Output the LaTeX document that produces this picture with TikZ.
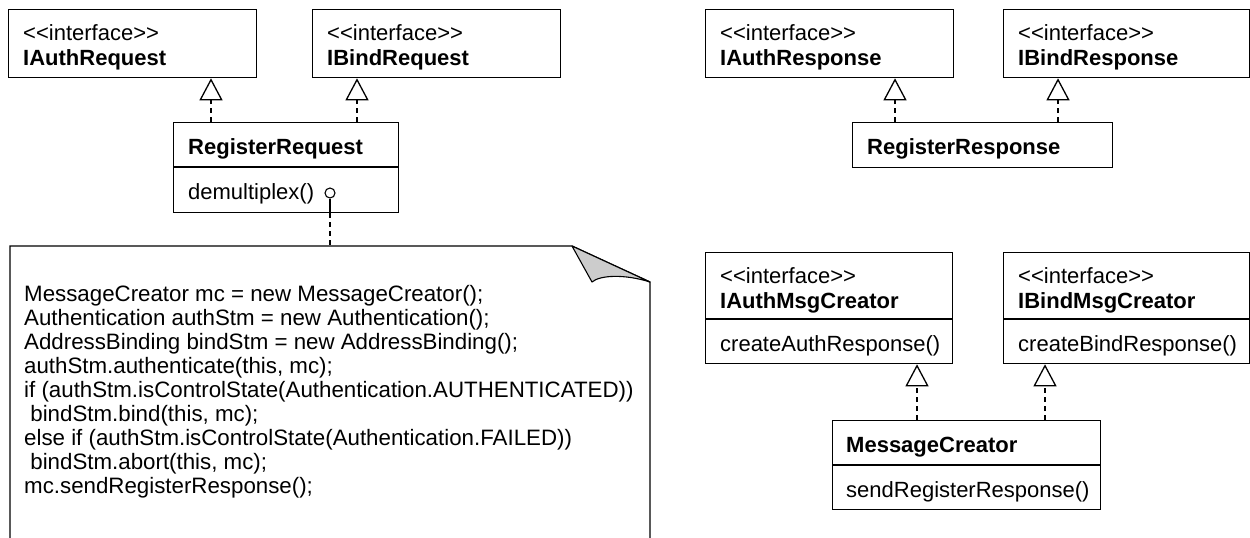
\documentclass[tikz,border=0pt]{standalone}
\usepackage{fontspec}
\setmainfont{Liberation Sans}
\newfontfamily\umlfont{Liberation Sans}
\usetikzlibrary{arrows.meta}
\begin{document}
\begin{tikzpicture}[x=1pt,y=-1pt,
  box/.style={draw, line width=1.3pt, inner sep=0, anchor=north west},
  txt/.style={inner sep=0, anchor=base west, font=\umlfont\fontsize{22}{24}\selectfont},
  btxt/.style={inner sep=0, anchor=base west, font=\umlfont\fontsize{22}{24}\selectfont\bfseries},
  notetxt/.style={inner sep=0, anchor=base west, align=left, font=\umlfont\fontsize{22.3}{24}\selectfont},
  real/.style={line width=1.3pt, dash pattern=on 5pt off 4pt, -{Triangle[open, length=22pt, width=23pt, line width=1.3pt]}},
  solidline/.style={line width=1.3pt},
  dashline/.style={line width=1.3pt, dash pattern=on 5pt off 4pt}
]
\useasboundingbox (0,0) rectangle (1250,538);

% ---------- left: requests ----------
\node[box, minimum width=248pt, minimum height=68pt] (iareq) at (8,9) {};
\node[txt] (iareqs) at (23,40) {<\kern0pt<interface>\kern0pt>};
\node[btxt] (iareqn) at (23,65) {IAuthRequest};

\node[box, minimum width=248pt, minimum height=68pt] (ibreq) at (312,9) {};
\node[txt] (ibreqs) at (327,40) {<\kern0pt<interface>\kern0pt>};
\node[btxt] (ibreqn) at (327,65) {IBindRequest};

\node[box, minimum width=225pt, minimum height=90pt] (rreq) at (173,122) {};
\draw[solidline] (rreq.west |- 0,167) -- (rreq.east |- 0,167);
\node[btxt] (rreqn) at (188,154) {RegisterRequest};
\node[txt] (rreqm) at (188,199) {demultiplex()};
\node[draw, circle, line width=1.1pt, minimum size=10pt, inner sep=0] (lp) at (330,193) {};

\draw[real] (rreq.north -| 211,0) -- (iareq.south -| 211,0);
\draw[real] (rreq.north -| 357,0) -- (ibreq.south -| 357,0);

% note
\coordinate (nt) at (330,246);
\draw[solidline] (lp.south) -- (lp.south |- rreq.south);
\draw[dashline] (lp.south |- rreq.south) -- (nt);
\draw[solidline, line join=miter] (10,538) -- (10,246) -- (572,246) -- (650,282) -- (650,538);
\filldraw[fill=black!20, line width=1.1pt, line join=round] (572,246) -- (592,282) .. controls (600,275) and (625,274) .. (650,282) -- cycle;
\node[notetxt] (code) at (24,493) {MessageCreator mc = new MessageCreator();\\
Authentication authStm = new Authentication();\\
AddressBinding bindStm = new AddressBinding();\\
authStm.authenticate(this, mc);\\
if (authStm.isControlState(Authentication.AUTHENTICATED))\\
\ bindStm.bind(this, mc);\\
else if (authStm.isControlState(Authentication.FAILED))\\
\ bindStm.abort(this, mc);\\
mc.sendRegisterResponse();};

% ---------- right top: responses ----------
\node[box, minimum width=248pt, minimum height=68pt] (iares) at (705,9) {};
\node[txt] (iaress) at (720,40) {<\kern0pt<interface>\kern0pt>};
\node[btxt] (iaresn) at (720,65) {IAuthResponse};

\node[box, minimum width=246pt, minimum height=68pt] (ibres) at (1003,9) {};
\node[txt] (ibress) at (1018,40) {<\kern0pt<interface>\kern0pt>};
\node[btxt] (ibresn) at (1018,65) {IBindResponse};

\node[box, minimum width=260pt, minimum height=45pt] (rres) at (852,122) {};
\node[btxt] (rresn) at (867,154) {RegisterResponse};

\draw[real] (rres.north -| 895,0) -- (iares.south -| 895,0);
\draw[real] (rres.north -| 1058,0) -- (ibres.south -| 1058,0);

% ---------- right bottom: msg creators ----------
\node[box, minimum width=247pt, minimum height=111pt] (iamc) at (705,252) {};
\draw[solidline] (iamc.west |- 0,319) -- (iamc.east |- 0,319);
\node[txt] (iamcs) at (720,283) {<\kern0pt<interface>\kern0pt>};
\node[btxt] (iamcn) at (720,308) {IAuthMsgCreator};
\node[txt] (iamcm) at (720,351) {createAuthResponse()};

\node[box, minimum width=246pt, minimum height=111pt] (ibmc) at (1003,252) {};
\draw[solidline] (ibmc.west |- 0,319) -- (ibmc.east |- 0,319);
\node[txt] (ibmcs) at (1018,283) {<\kern0pt<interface>\kern0pt>};
\node[btxt] (ibmcn) at (1018,308) {IBindMsgCreator};
\node[txt] (ibmcm) at (1018,351) {createBindResponse()};

\node[box, minimum width=268pt, minimum height=89pt] (mc) at (832,420) {};
\draw[solidline] (mc.west |- 0,465) -- (mc.east |- 0,465);
\node[btxt] (mcn) at (846,452) {MessageCreator};
\node[txt] (mcm) at (846,497) {sendRegisterResponse()};

\draw[real] (mc.north -| 917,0) -- (iamc.south -| 917,0);
\draw[real] (mc.north -| 1045,0) -- (ibmc.south -| 1045,0);
\end{tikzpicture}
\end{document}
